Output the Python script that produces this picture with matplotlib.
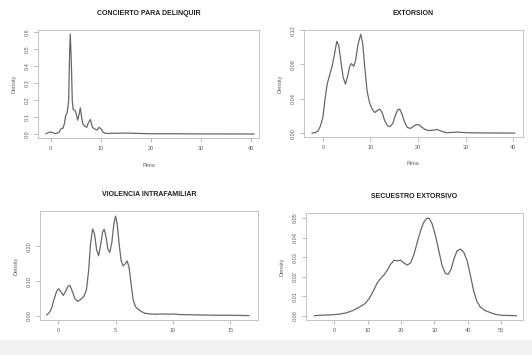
import matplotlib
matplotlib.use("Agg")
import matplotlib.pyplot as plt
from matplotlib.patches import Rectangle

plt.rcParams["font.family"] = ["Liberation Sans", "DejaVu Sans"]

# density curves (x = Pena, y = Density)
conc_x = [-0.9, -0.2, 0.33, 1.0, 1.67, 2.1, 2.5, 2.8, 3.0, 3.3, 3.6, 3.8, 3.93,
          4.13, 4.33, 4.5, 4.87, 5.1, 5.4, 5.67, 5.93, 6.2, 6.47, 6.87, 7.2,
          7.53, 7.93, 8.33, 8.8, 9.27, 9.67, 10.0, 10.47, 11.0, 13.0, 15.0,
          20.0, 25.0, 30.0, 35.0, 40.5]
conc_y = [0.002, 0.012, 0.010, 0.002, 0.010, 0.032, 0.036, 0.066, 0.110, 0.125,
          0.195, 0.490, 0.590, 0.430, 0.195, 0.145, 0.140, 0.120, 0.082, 0.115,
          0.155, 0.096, 0.056, 0.046, 0.040, 0.066, 0.086, 0.040, 0.030, 0.024,
          0.040, 0.032, 0.010, 0.004, 0.005, 0.006, 0.002, 0.002, 0.001, 0.001,
          0.0005]

ext_x = [-2.24, -1.54, -0.98, -0.49, 0.0, 0.42, 0.91, 1.4, 1.96, 2.45, 2.94,
         3.36, 3.78, 4.27, 4.76, 5.24, 5.66, 6.0, 6.5, 6.85, 7.41, 7.97, 8.39,
         8.81, 9.3, 9.79, 10.35, 10.9, 11.4, 11.96, 12.45, 13.0, 13.6, 14.1,
         14.7, 15.2, 15.7, 16.15, 16.64, 17.2, 17.76, 18.4, 18.95, 19.58,
         20.14, 20.7, 21.3, 22.0, 22.7, 23.36, 24.0, 24.5, 25.2, 26.1, 27.1,
         28.2, 29.2, 30.6, 33.4, 36.9, 40.3]
ext_y = [0.0, 0.0008, 0.0027, 0.0085, 0.018, 0.0377, 0.057, 0.067, 0.078, 0.092,
         0.107, 0.102, 0.084, 0.065, 0.057, 0.067, 0.078, 0.081, 0.078, 0.084,
         0.104, 0.1153, 0.104, 0.0765, 0.049, 0.036, 0.028, 0.024, 0.026, 0.028,
         0.024, 0.0144, 0.0085, 0.0074, 0.0113, 0.020, 0.0268, 0.028, 0.022,
         0.0124, 0.0066, 0.0054, 0.0074, 0.0097, 0.0097, 0.0074, 0.0047, 0.0031,
         0.0031, 0.0035, 0.0043, 0.0031, 0.0016, 0.0004, 0.0008, 0.0012, 0.0008,
         0.0004, 0.0002, 0.0001, 0.0]

viol_x = [-1.01, -0.78, -0.58, -0.38, -0.14, 0.03, 0.2, 0.43, 0.64, 0.84, 1.01,
          1.22, 1.45, 1.68, 1.94, 2.23, 2.46, 2.64, 2.81, 2.99, 3.16, 3.33,
          3.51, 3.68, 3.86, 4.0, 4.14, 4.32, 4.49, 4.67, 4.84, 4.99, 5.13, 5.3,
          5.48, 5.65, 5.83, 6.0, 6.17, 6.35, 6.52, 6.72, 6.96, 7.25, 7.54, 7.97,
          8.55, 9.13, 9.71, 10.0, 10.6, 12.3, 13.8, 15.2, 16.6]
viol_y = [0.003, 0.0097, 0.022, 0.047, 0.071, 0.078, 0.071, 0.059, 0.071, 0.085,
          0.088, 0.071, 0.050, 0.042, 0.047, 0.056, 0.076, 0.129, 0.207, 0.250,
          0.236, 0.192, 0.173, 0.202, 0.241, 0.249, 0.231, 0.192, 0.183, 0.212,
          0.265, 0.287, 0.265, 0.207, 0.158, 0.144, 0.150, 0.158, 0.139, 0.090,
          0.047, 0.027, 0.019, 0.0126, 0.0078, 0.0058, 0.0049, 0.0058, 0.0049,
          0.0058, 0.0039, 0.003, 0.002, 0.002, 0.001]

secu_x = [-6.0, -4.47, -2.5, -0.5, 1.5, 3.5, 5.5, 7.45, 9.2, 10.6, 11.9, 12.9,
          13.9, 14.9, 15.9, 16.9, 17.9, 18.9, 19.9, 20.9, 21.9, 22.9, 23.9,
          24.85, 25.85, 26.8, 27.8, 28.5, 29.3, 30.3, 31.3, 32.3, 33.3, 34.1,
          35.0, 35.8, 36.8, 37.8, 38.8, 39.8, 40.8, 41.75, 42.7, 43.7, 45.2,
          46.7, 48.2, 50.2, 52.2, 54.5]
secu_y = [0.0, 0.0002, 0.0003, 0.0005, 0.0008, 0.0014, 0.0026, 0.0043, 0.0062,
          0.0091, 0.0134, 0.0169, 0.0191, 0.0209, 0.0234, 0.0264, 0.0284,
          0.0281, 0.0284, 0.0269, 0.0259, 0.0272, 0.0316, 0.0376, 0.0436,
          0.0479, 0.0500, 0.0497, 0.0470, 0.0410, 0.0333, 0.0255, 0.0216,
          0.0212, 0.0238, 0.0290, 0.0333, 0.0341, 0.0324, 0.0281, 0.0203,
          0.0126, 0.0074, 0.0045, 0.0026, 0.0016, 0.0007, 0.0002, 0.0001, 0.0]

titles = ["CONCIERTO PARA DELINQUIR", "EXTORSION",
          "VIOLENCIA INTRAFAMILIAR", "SECUESTRO EXTORSIVO"]
xticks = [[0, 10, 20, 30, 40], [0, 10, 20, 30, 40],
          [0, 5, 10, 15], [0, 10, 20, 30, 40, 50]]
yticks = [[0.0, 0.1, 0.2, 0.3, 0.4, 0.5, 0.6], [0.00, 0.04, 0.08, 0.12],
          [0.00, 0.10, 0.20], [0.00, 0.01, 0.02, 0.03, 0.04, 0.05]]
yfmt = ["{:.1f}", "{:.2f}", "{:.2f}", "{:.2f}"]
xlims = [(-2.5, 41.5), (-4.0, 42.0), (-1.6, 17.4), (-8.5, 56.5)]
ylims = [(-0.0235, 0.614), (-0.0046, 0.1199), (-0.0116, 0.3016), (-0.0022, 0.0525)]
boxes = [[0.0714, 0.611, 0.4155, 0.3045], [0.571, 0.614, 0.4117, 0.301],
         [0.075, 0.0986, 0.41, 0.307], [0.575, 0.0986, 0.408, 0.301]]
curves = [(conc_x, conc_y), (ext_x, ext_y), (viol_x, viol_y), (secu_x, secu_y)]

fig = plt.figure(figsize=(5.32, 3.55), dpi=100)
fig.patches.append(Rectangle((0, 0), 1, 15 / 355, transform=fig.transFigure,
                             facecolor="#f1f1f1", edgecolor="none", zorder=0))

for i in range(4):
    ax = fig.add_axes(boxes[i])
    ax.set_facecolor("none")
    ax.plot(curves[i][0], curves[i][1], color="#686868", lw=0.9)
    ax.set_xlim(*xlims[i])
    ax.set_ylim(*ylims[i])
    ax.set_xticks(xticks[i])
    ax.set_yticks(yticks[i])
    ax.set_yticklabels([yfmt[i].format(v) for v in yticks[i]],
                       rotation=90, va="center")
    for s in ax.spines.values():
        s.set_color("#c4c4c4")
        s.set_linewidth(0.7)
    ax.tick_params(length=3, width=0.6, color="#b0b0b0", labelsize=4,
                   labelcolor="#606060", pad=3)
    ax.set_title(titles[i], fontsize=5, fontweight="bold", color="#222222",
                 pad=11)
    ax.set_xlabel("Pena", fontsize=4, color="#606060", labelpad=8)
    ax.set_ylabel("Density", fontsize=4, color="#606060", labelpad=6)

fig.savefig("out.png", dpi=100)
